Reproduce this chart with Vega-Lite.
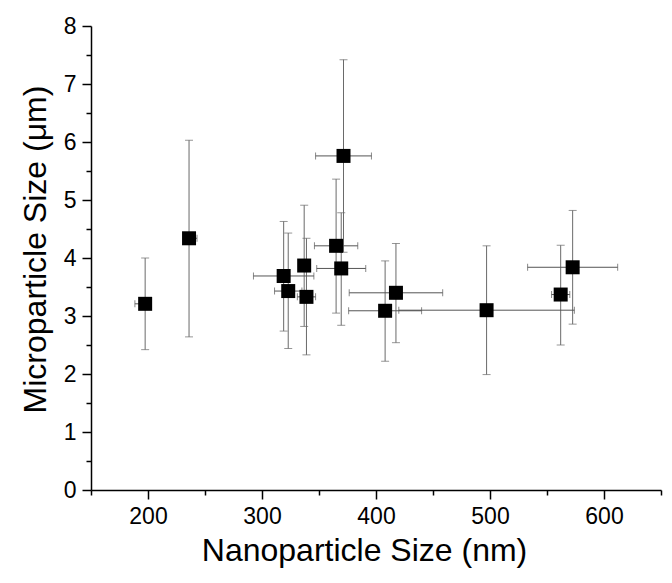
{
  "$schema": "https://vega.github.io/schema/vega-lite/v6.json",
  "width": 570,
  "height": 464,
  "autosize": {"type": "none"},
  "padding": {"left": 91, "top": 26, "right": 11, "bottom": 93},
  "background": "white",
  "config": {
    "view": {"stroke": null},
    "font": "Liberation Sans",
    "axis": {
      "grid": false,
      "domainColor": "black",
      "domainWidth": 1.5,
      "tickColor": "black",
      "tickWidth": 1.5,
      "labelColor": "black",
      "labelFont": "Liberation Sans",
      "labelFontSize": 23,
      "titleColor": "black",
      "titleFont": "Liberation Sans",
      "titleFontSize": 32,
      "titleFontWeight": "normal"
    }
  },
  "data": {
    "values": [
      {"x": 197.5, "xlo": 188.5, "xhi": 200.5, "y": 3.21, "ylo": 2.42, "yhi": 4.00},
      {"x": 236, "xlo": 232, "xhi": 243, "y": 4.34, "ylo": 2.64, "yhi": 6.03},
      {"x": 319, "xlo": 292.5, "xhi": 345.5, "y": 3.69, "ylo": 2.74, "yhi": 4.63},
      {"x": 323, "xlo": 311, "xhi": 335, "y": 3.43, "ylo": 2.44, "yhi": 4.43},
      {"x": 337, "xlo": 334, "xhi": 340, "y": 3.87, "ylo": 2.82, "yhi": 4.91},
      {"x": 339, "xlo": 331, "xhi": 347, "y": 3.33, "ylo": 2.33, "yhi": 4.34},
      {"x": 365, "xlo": 346, "xhi": 384, "y": 4.21, "ylo": 3.05, "yhi": 5.36},
      {"x": 369.5, "xlo": 348, "xhi": 391, "y": 3.82, "ylo": 2.84, "yhi": 4.78},
      {"x": 371.5, "xlo": 347, "xhi": 396, "y": 5.76, "ylo": 4.10, "yhi": 7.42},
      {"x": 408, "xlo": 376, "xhi": 440, "y": 3.09, "ylo": 2.22, "yhi": 3.95},
      {"x": 417.5, "xlo": 376.5, "xhi": 458.5, "y": 3.40, "ylo": 2.54, "yhi": 4.25},
      {"x": 497, "xlo": 420, "xhi": 574, "y": 3.10, "ylo": 1.99, "yhi": 4.21},
      {"x": 562, "xlo": 554, "xhi": 570, "y": 3.37, "ylo": 2.50, "yhi": 4.22},
      {"x": 572.5, "xlo": 533, "xhi": 612, "y": 3.84, "ylo": 2.86, "yhi": 4.82}
    ]
  },
  "resolve": {"axis": {"x": "independent", "y": "independent"}},
  "layer": [
    {
      "mark": {"type": "point", "opacity": 0, "size": 1},
      "encoding": {
        "x": {"field": "x", "type": "quantitative", "scale": {"domain": [150, 650], "nice": false, "zero": false},
          "axis": {"orient": "bottom", "values": [150, 250, 350, 450, 550, 650], "tickSize": 5, "labels": false, "domain": false, "title": null}},
        "y": {"field": "y", "type": "quantitative", "scale": {"domain": [0, 8], "nice": false},
          "axis": {"orient": "left", "values": [0.5, 1.5, 2.5, 3.5, 4.5, 5.5, 6.5, 7.5], "tickSize": 5, "labels": false, "domain": false, "title": null}}
      }
    },
    {
      "mark": {"type": "errorbar", "ticks": {"size": 8, "color": "#6a6a6a"}, "color": "#6a6a6a", "thickness": 1},
      "encoding": {
        "x": {"field": "x", "type": "quantitative", "axis": null},
        "y": {"field": "ylo", "type": "quantitative", "axis": null},
        "y2": {"field": "yhi"}
      }
    },
    {
      "mark": {"type": "errorbar", "ticks": {"size": 7, "color": "#555555"}, "color": "#555555", "thickness": 1},
      "encoding": {
        "y": {"field": "y", "type": "quantitative", "axis": null},
        "x": {"field": "xlo", "type": "quantitative", "axis": null},
        "x2": {"field": "xhi"}
      }
    },
    {
      "mark": {"type": "point", "shape": "square", "filled": true, "size": 196, "color": "black", "opacity": 1},
      "encoding": {
        "x": {"field": "x", "type": "quantitative",
          "axis": {"orient": "bottom", "values": [200, 300, 400, 500, 600], "tickSize": 9, "labelPadding": 6, "title": "Nanoparticle Size (nm)", "titlePadding": 7, "titleX": 273}},
        "y": {"field": "y", "type": "quantitative",
          "axis": {"orient": "left", "values": [0, 1, 2, 3, 4, 5, 6, 7, 8], "tickSize": 9, "labelPadding": 6, "title": "Microparticle Size (μm)", "titlePadding": 11, "titleY": 223}}
      }
    }
  ]
}
